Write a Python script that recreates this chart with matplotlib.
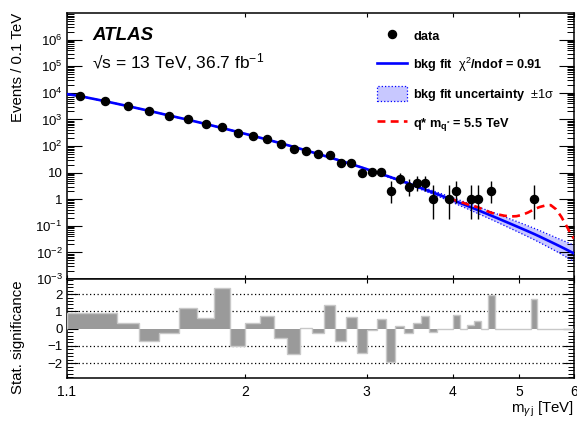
import math
import numpy as np
import matplotlib
matplotlib.use('Agg')
import matplotlib.pyplot as plt
from matplotlib.ticker import FixedLocator, FixedFormatter, NullFormatter, NullLocator, LogLocator, MultipleLocator
from matplotlib.lines import Line2D
from matplotlib.patches import Patch

plt.rcParams['font.family'] = ['Liberation Sans', 'DejaVu Sans']
plt.rcParams['mathtext.fontset'] = 'custom'
plt.rcParams['mathtext.rm'] = 'Liberation Sans'
plt.rcParams['mathtext.it'] = 'Liberation Sans:italic'
plt.rcParams['mathtext.bf'] = 'Liberation Sans:bold'

# binning: 0.1 TeV bins from 1.1 to 6.0 TeV
bin_lo = 1.1
bin_width = 0.1
n_bins = 49

# observed events per bin
counts = [7600, 4920, 3110, 2070, 1380, 1010, 672, 518, 316, 244,
          183, 119, 78, 66, 49, 47, 24, 24, 10, 11,
          11, 2, 6, 3, 4, 4, 1, 0, 1, 2,
          0, 1, 1, 0, 2, 0, 0, 0, 0, 0,
          0, 1, 0, 0, 0, 0, 0, 0, 0]

# significance per bin (lower panel)
signif = [0.90, 0.90, 0.35, -0.69, -0.23, 1.17, 0.60, 2.35, -1.00, 0.35,
          0.73, -0.52, -1.44, 0.06, -0.27, 1.38, -0.73, 0.69, -1.38, -0.08,
          0.54, -1.94, 0.17, -0.27, 0.31, 0.75, -0.21, 0.0, 0.0, 0.77,
          0.0, 0.23, 0.42, 0.0, 1.96, 0.0, 0.0, 0.0, 0.0, 0.0,
          0.0, 1.73, 0.0, 0.0, 0.0, 0.0, 0.0, 0.0, 0.0]

# background fit curve and its +-1 sigma band (half width in decades)
fit_mass = [1.10, 1.15, 1.25, 1.35, 1.45, 1.55, 1.65, 1.75, 1.85, 1.95,
            2.05, 2.15, 2.25, 2.35, 2.45, 2.55, 2.65, 2.75, 2.85, 2.95,
            3.05, 3.15, 3.25, 3.35, 3.45, 3.55, 3.65, 3.75, 3.85, 3.95,
            4.05, 4.15, 4.25, 4.35, 4.45, 4.55, 4.65, 4.75, 4.85, 4.95,
            5.05, 5.15, 5.25, 5.35, 5.45, 5.55, 5.65, 5.75, 5.85, 5.95, 6.00]
fit_val = [9000, 7516, 4853, 3162, 2099, 1400, 973, 676, 475, 337,
           242, 175, 127, 92.9, 68.2, 50.4, 37.3, 27.8, 20.8, 15.6,
           11.7, 8.87, 6.73, 5.12, 3.90, 2.99, 2.29, 1.76, 1.36, 1.05,
           0.817, 0.637, 0.498, 0.390, 0.306, 0.242, 0.191, 0.151, 0.120, 0.0959,
           0.0767, 0.0615, 0.0494, 0.0394, 0.0313, 0.0250, 0.0200, 0.0160, 0.0128, 0.0102, 0.0092]
band_dex = [0.01, 0.01, 0.01, 0.01, 0.01, 0.01, 0.01, 0.01, 0.01, 0.01,
            0.01, 0.01, 0.01, 0.01, 0.01, 0.015, 0.015, 0.015, 0.015, 0.015,
            0.02, 0.025, 0.03, 0.038, 0.045, 0.05, 0.06, 0.065, 0.075, 0.085,
            0.095, 0.105, 0.115, 0.125, 0.135, 0.145, 0.155, 0.165, 0.175, 0.185,
            0.195, 0.205, 0.215, 0.225, 0.235, 0.245, 0.255, 0.27, 0.285, 0.30, 0.31]

# q* signal (5.5 TeV) on top of background
sig_mass = [3.95, 4.05, 4.15, 4.25, 4.35, 4.45, 4.55, 4.65, 4.75, 4.85,
            4.95, 5.05, 5.15, 5.25, 5.35, 5.45, 5.55, 5.65, 5.75, 5.85, 5.95, 6.00]
sig_val = [1.08, 0.88, 0.72, 0.58, 0.50, 0.39, 0.31, 0.27, 0.24, 0.225,
           0.23, 0.26, 0.32, 0.42, 0.51, 0.58, 0.60, 0.42, 0.22, 0.10, 0.045, 0.033]

main_yticks = [1e-3, 1e-2, 1e-1, 1, 10, 1e2, 1e3, 1e4, 1e5, 1e6]
main_ylabels = ['$10^{-3}$', '$10^{-2}$', '$10^{-1}$', '1', '10',
                '$10^{2}$', '$10^{3}$', '$10^{4}$', '$10^{5}$', '$10^{6}$']
x_ticks = [1.1, 2, 3, 4, 5, 6]
x_labels = ['1.1', '2', '3', '4', '5', '6']
sig_grid = [-2, -1, 1, 2]


def pois_cdf(k, mu):
    s = 0.0
    term = math.exp(-mu)
    for i in range(k + 1):
        if i > 0:
            term *= mu / i
        s += term
    return s


def solve(f, lo, hi):
    for _ in range(80):
        mid = 0.5 * (lo + hi)
        if f(mid) > 0:
            lo = mid
        else:
            hi = mid
    return 0.5 * (lo + hi)


def garwood(n):
    a = 0.158655
    if n > 60:
        return n - math.sqrt(n), n + math.sqrt(n)
    hi = solve(lambda mu: pois_cdf(n, mu) - a, n, n + 10 * math.sqrt(n + 1) + 10)
    if n == 0:
        return 0.0, hi
    lo = solve(lambda mu: a - (1 - pois_cdf(n - 1, mu)), 0.0, n)
    return lo, hi


edges = bin_lo + bin_width * np.arange(n_bins + 1)
centers = 0.5 * (edges[:-1] + edges[1:])
counts = np.array(counts, dtype=float)
fit_mass = np.array(fit_mass)
fit_val = np.array(fit_val)
band_dex = np.array(band_dex)

fig = plt.figure(figsize=(5.77, 4.23), dpi=100)
ax = fig.add_axes([0.1156, 0.3404, 0.8792, 0.6288])
ax2 = fig.add_axes([0.1156, 0.1057, 0.8792, 0.2347])

# main panel
ax.fill_between(fit_mass, fit_val * 10 ** (-band_dex), fit_val * 10 ** band_dex,
                color='#c8c8ff', lw=0, zorder=1)
ax.plot(fit_mass, fit_val * 10 ** band_dex, color='#0000ff', lw=0.9, ls=':', zorder=2)
ax.plot(fit_mass, fit_val * 10 ** (-band_dex), color='#0000ff', lw=0.9, ls=':', zorder=2)
ax.plot(fit_mass, fit_val, color='#0000ff', lw=1.9, zorder=3)
ax.plot(sig_mass, sig_val, color='#ff0000', lw=1.9, dashes=(3.0, 2.0), zorder=4)

mask = counts > 0
errs = [garwood(int(n)) for n in counts[mask]]
ylo = counts[mask] - np.array([e[0] for e in errs])
yhi = np.array([e[1] for e in errs]) - counts[mask]
ax.errorbar(centers[mask], counts[mask], yerr=[ylo, yhi], fmt='o', color='black',
            ms=5.8, elinewidth=1.0, capsize=0, zorder=5)

ax.set_xscale('log')
ax.set_yscale('log')
ax.set_xlim(1.1, 6.0)
ax.set_ylim(1e-3, 1e7)
ax.xaxis.set_major_locator(FixedLocator(x_ticks))
ax.xaxis.set_major_formatter(NullFormatter())
ax.xaxis.set_minor_locator(NullLocator())
ax.yaxis.set_major_locator(FixedLocator(main_yticks))
ax.yaxis.set_major_formatter(FixedFormatter(main_ylabels))
ax.yaxis.set_minor_locator(LogLocator(base=10, subs=np.arange(2, 10), numticks=30))
ax.yaxis.set_minor_formatter(NullFormatter())
ax.tick_params(which='both', direction='in', top=True, right=True, labelsize=9.5)
ax.tick_params(axis='x', which='major', length=3, width=0.8)
ax.tick_params(axis='y', which='major', length=10.5, width=0.8, pad=3)
ax.tick_params(axis='y', which='minor', length=5.3, width=0.7)
for sp in ax.spines.values():
    sp.set_linewidth(1.1)

ax.set_ylabel('Events / 0.1 TeV', fontsize=10.8, loc='top')
ax.yaxis.set_label_coords(-0.082, 1.0)

ax.text(0.05, 0.917, 'ATLAS', transform=ax.transAxes, fontsize=13.5,
        fontweight='bold', style='italic', va='center', ha='left')
ax.text(0.05, 0.816, '√s = 13 TeV, 36.7 fb$^{-1}$', transform=ax.transAxes,
        fontsize=12.5, va='center', ha='left')

handles = [
    Line2D([], [], marker='o', color='black', ls='none', ms=5.8),
    Line2D([], [], color='#0000ff', lw=1.9),
    Patch(facecolor='#c8c8ff', edgecolor='#0000ff', linestyle=':', lw=0.9),
    Line2D([], [], color='#ff0000', lw=1.9, dashes=(3.0, 2.0)),
]
labels = [
    'data',
    r'bkg fit  $\mathrm{\chi}^{2}$/ndof = 0.91',
    r'bkg fit uncertainty  $\pm1\mathrm{\sigma}$',
    r'q* m$_{\mathbf{q^{*}}}$ = 5.5 TeV',
]
ax.legend(handles, labels, loc='upper left', bbox_to_anchor=(0.6117, 0.945),
          frameon=False, prop={'weight': 'bold', 'size': 9.2},
          handlelength=2.35, handleheight=1.5, handletextpad=0.47,
          labelspacing=0.95, borderpad=0, borderaxespad=0)

# lower panel: significance
ax2.stairs(signif, edges, fill=True, color='#9a9a9a', zorder=2)
ax2.stairs(signif, edges, color='#c8c8c8', lw=1.0, zorder=3)
for g in sig_grid:
    ax2.axhline(g, color='black', lw=0.9, ls=(0, (1, 2)), zorder=1)

ax2.set_xscale('log')
ax2.set_xlim(1.1, 6.0)
ax2.set_ylim(-2.87, 2.87)
ax2.xaxis.set_major_locator(FixedLocator(x_ticks))
ax2.xaxis.set_major_formatter(FixedFormatter(x_labels))
ax2.xaxis.set_minor_locator(NullLocator())
ax2.yaxis.set_major_locator(FixedLocator([-2, -1, 0, 1, 2]))
ax2.yaxis.set_minor_locator(MultipleLocator(0.2))
ax2.tick_params(which='both', direction='in', top=True, right=True, labelsize=9.5)
ax2.tick_params(axis='x', which='major', length=3, width=0.8, pad=5, labelsize=10)
ax2.tick_params(axis='y', which='major', length=8, width=0.8, pad=3)
ax2.tick_params(axis='y', which='minor', length=4.3, width=0.7)
for sp in ax2.spines.values():
    sp.set_linewidth(1.1)

ax2.set_ylabel('Stat. significance', fontsize=10.8)
ax2.yaxis.set_label_coords(-0.082, 0.41)
ax2.set_xlabel(r'm$_{\gamma\,\mathrm{j}}$ [TeV]', fontsize=10.8, loc='right')
ax2.xaxis.set_label_coords(1.0, -0.215)

fig.savefig('out.png', dpi=100)
